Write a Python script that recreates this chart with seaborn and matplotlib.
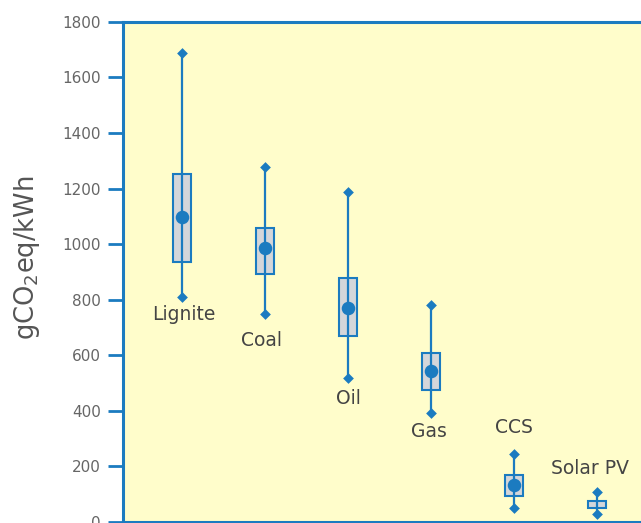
import matplotlib
matplotlib.use("Agg")
import matplotlib.pyplot as plt
import seaborn as sns
import pandas as pd
import numpy as np

# ---- data (gCO2eq/kWh) ----
categories = ["Lignite", "Coal", "Oil", "Gas", "CCS", "Solar PV"]
whisker_low = [810, 748, 517, 391, 48, 27]
box_low = [936, 892, 670, 475, 94, 50]
mean_vals = [1097, 986, 769, 544, 132, np.nan]
box_high = [1253, 1058, 879, 608, 168, 76]
whisker_high = [1689, 1277, 1189, 780, 244, 106]

# ---- layout (label offsets in pixels, relative to whisker end) ----
label_anchor = ["low", "low", "low", "low", "high", "high"]
label_dx = [2, -4, 0, -2, 0, -7]
label_dy = [-18, -26, -20, -18, 26, 24]

BLUE = "#1b7bc0"
FILL = "#d4d6da"
BG = "#fffdcb"

sns.set_theme(style="white")
plt.rcParams["font.family"] = ["DejaVu Sans"]

fig = plt.figure(figsize=(6.41, 5.23), dpi=100)
ax = fig.add_axes([0.1919, 0.0025, 0.9, 0.9555])
ax.set_facecolor(BG)

stats = []
for i, c in enumerate(categories):
    stats.append(dict(label=c, q1=box_low[i], q3=box_high[i],
                      med=(box_low[i] + box_high[i]) / 2,
                      whislo=whisker_low[i], whishi=whisker_high[i], fliers=[]))
pos = list(range(len(categories)))
ax.bxp(stats, positions=pos, widths=0.21, patch_artist=True, showfliers=False,
       boxprops=dict(facecolor=FILL, edgecolor=BLUE, linewidth=1.5),
       whiskerprops=dict(color=BLUE, linewidth=1.6),
       capprops=dict(linewidth=0),
       medianprops=dict(linewidth=0), manage_ticks=False, zorder=2)

df = pd.DataFrame({"cat": pos, "low": whisker_low, "high": whisker_high,
                   "mean": mean_vals})
# through-line inside boxes
ax.vlines(df["cat"], box_low, box_high, color=BLUE, linewidth=1.6, zorder=3)
# diamond caps
caps = pd.concat([df[["cat", "low"]].rename(columns={"low": "v"}),
                  df[["cat", "high"]].rename(columns={"high": "v"})])
sns.scatterplot(data=caps, x="cat", y="v", marker="D", s=30, color=BLUE,
                edgecolor=BLUE, linewidth=0, ax=ax, zorder=4)
# means
sns.scatterplot(data=df.dropna(), x="cat", y="mean", marker="o", s=95,
                color=BLUE, edgecolor=BLUE, linewidth=0, ax=ax, zorder=5)

for i, c in enumerate(categories):
    yv = whisker_low[i] if label_anchor[i] == "low" else whisker_high[i]
    ax.annotate(c, xy=(pos[i], yv), xytext=(label_dx[i], label_dy[i]),
                textcoords="offset pixels", ha="center", va="center",
                fontsize=13.5, color="#444444")

ax.set_xlim(-0.711, 6.24)
ax.set_ylim(0, 1800)
ax.set_yticks(np.arange(0, 1801, 200))
ax.set_xticks([])
ax.set_xlabel("")
ax.set_ylabel("gCO$_2$eq/kWh", fontsize=18.5, color="#555555",
              va="center", ha="center")
ax.yaxis.set_label_coords(-0.166, 0.528)
ax.tick_params(axis="y", direction="out", length=11, width=2, color=BLUE,
               labelsize=11, labelcolor="#666666", pad=5, left=True)
for s in ax.spines.values():
    s.set_color(BLUE)
    s.set_linewidth(2.2)

fig.savefig("out.png", dpi=100)
